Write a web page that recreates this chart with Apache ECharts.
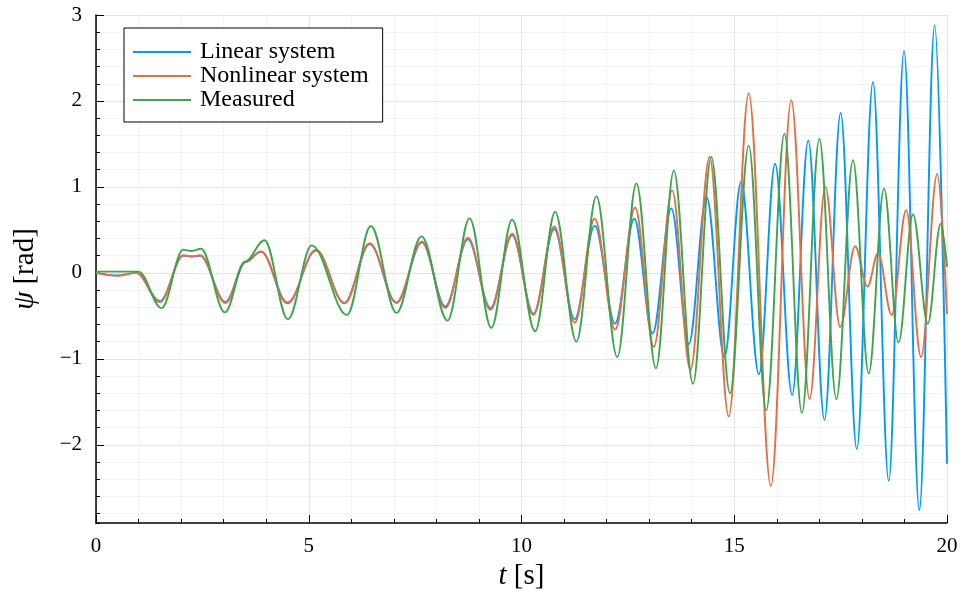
<!DOCTYPE html>
<html>
<head>
<meta charset="utf-8">
<script src="https://cdn.jsdelivr.net/npm/echarts@6/dist/echarts.min.js"></script>
<style>
  html, body { margin: 0; padding: 0; background: #fff; }
  #chart { width: 963px; height: 599px; }
</style>
</head>
<body>
<div id="chart"></div>
<script>
// Yaw angle response: time instants of the turning points and the angle there
const linearT = [0, 0.5, 0.95, 1.5, 2.05, 2.25, 2.45, 3.04, 3.52, 3.88, 4.5, 5.17, 5.84, 6.43, 7.06, 7.66,
  8.21, 8.74, 9.27, 9.78, 10.28, 10.77, 11.25, 11.72, 12.2, 12.65, 13.08, 13.52, 13.93, 14.35, 14.77,
  15.16, 15.58, 15.96, 16.36, 16.74, 17.12, 17.5, 17.88, 18.26, 18.63, 18.99, 19.35, 19.71, 20];
const linearPsi = [0, -0.03, 0, -0.33, 0.2, 0.19, 0.2, -0.34, 0.13, 0.245, -0.345, 0.26, -0.35, 0.335, -0.345, 0.355,
  -0.39, 0.39, -0.41, 0.44, -0.475, 0.51, -0.54, 0.55, -0.59, 0.63, -0.705, 0.75, -0.83, 0.88, -0.98,
  1.06, -1.18, 1.27, -1.42, 1.54, -1.71, 1.86, -2.05, 2.22, -2.42, 2.58, -2.76, 2.88, -2.22];

const nonlinearT = [0, 0.5, 0.95, 1.5, 2.05, 2.25, 2.45, 3.04, 3.52, 3.88, 4.5, 5.17, 5.84, 6.43, 7.06, 7.66,
  8.21, 8.74, 9.27, 9.78, 10.28, 10.77, 11.25, 11.72, 12.2, 12.67, 13.11, 13.54, 13.97, 14.42, 14.87,
  15.34, 15.86, 16.34, 16.77, 17.14, 17.49, 17.84, 18.13, 18.38, 18.7, 19.04, 19.39, 19.77, 20];
const nonlinearPsi = [0, -0.035, 0, -0.34, 0.205, 0.19, 0.205, -0.35, 0.13, 0.25, -0.355, 0.27, -0.355, 0.345, -0.35, 0.365,
  -0.41, 0.41, -0.43, 0.455, -0.49, 0.54, -0.58, 0.63, -0.66, 0.76, -0.86, 0.96, -1.13, 1.35, -1.67,
  2.09, -2.48, 2.01, -1.47, 1.0, -0.63, 0.31, -0.16, 0.23, -0.49, 0.73, -0.98, 1.15, -0.48];

const measuredT = [0, 1.0, 1.54, 2.05, 2.25, 2.47, 3.03, 3.5, 3.96, 4.51, 5.07, 5.9, 6.46, 7.06, 7.65,
  8.26, 8.78, 9.29, 9.78, 10.32, 10.79, 11.29, 11.76, 12.25, 12.7, 13.16, 13.58, 14.03, 14.46, 14.9,
  15.34, 15.75, 16.18, 16.59, 17.0, 17.4, 17.79, 18.16, 18.52, 18.86, 19.2, 19.55, 19.85, 20];
const measuredPsi = [0.015, 0.015, -0.41, 0.27, 0.255, 0.28, -0.46, 0.13, 0.38, -0.54, 0.32, -0.49, 0.545, -0.465, 0.425,
  -0.556, 0.634, -0.64, 0.62, -0.68, 0.71, -0.8, 0.89, -0.98, 1.04, -1.11, 1.19, -1.29, 1.35, -1.4,
  1.48, -1.6, 1.62, -1.63, 1.56, -1.47, 1.31, -1.17, 0.98, -0.81, 0.68, -0.59, 0.57, 0.07];

const seriesNames = ['Linear system', 'Nonlinear system', 'Measured'];
const seriesColors = ['#009AFA', '#E36F47', '#3EA44E'];

const X_MIN = 0, X_MAX = 20;
const Y_MIN = -2.91, Y_MAX = 3;

const FONT = '"Liberation Serif", "DejaVu Serif", serif';

function pairs(ts, vs) {
  return ts.map((t, i) => [t, vs[i]]);
}

function tickText(v) {
  const r = Math.round(v);
  if (Math.abs(v - r) > 1e-6) return '';
  return r < 0 ? '\u2212' + Math.abs(r) : String(r);
}

const chart = echarts.init(document.getElementById('chart'), null, { renderer: 'canvas' });

const lineSeries = [
  pairs(linearT, linearPsi),
  pairs(nonlinearT, nonlinearPsi),
  pairs(measuredT, measuredPsi)
].map((data, i) => ({
  name: seriesNames[i],
  type: 'line',
  yAxisIndex: 1,
  data: data,
  symbol: 'none',
  showSymbol: false,
  smooth: 0.36,
  smoothMonotone: 'x',
  lineStyle: { width: 1.9, color: seriesColors[i] },
  itemStyle: { color: seriesColors[i] },
  emphasis: { disabled: true }
}));

chart.setOption({
  animation: false,
  backgroundColor: '#ffffff',
  grid: { left: 96, right: 16, top: 15, bottom: 76, containLabel: false },
  legend: {
    data: seriesNames.map((n) => ({ name: n, icon: 'rect' })),
    left: 124,
    top: 28,
    orient: 'vertical',
    padding: [12, 14, 10, 9],
    itemGap: 0,
    itemWidth: 58,
    itemHeight: 2,
    borderColor: '#000',
    borderWidth: 1,
    borderRadius: 0,
    backgroundColor: '#ffffff',
    selectedMode: false,
    textStyle: { fontFamily: FONT, fontSize: 24, lineHeight: 23.5, height: 23.5, color: '#000', padding: [0, 0, 0, 4] }
  },
  xAxis: {
    type: 'value',
    min: X_MIN,
    max: X_MAX,
    interval: 5,
    name: '{i|t} [s]',
    nameLocation: 'middle',
    nameGap: 36,
    nameTextStyle: {
      fontFamily: FONT, fontSize: 29, color: '#000',
      rich: { i: { fontFamily: FONT, fontSize: 29, fontStyle: 'italic', color: '#000' } }
    },
    axisLine: { onZero: false, lineStyle: { color: '#000', width: 1.5 } },
    axisTick: { inside: true, length: 8, lineStyle: { color: '#000', width: 1 } },
    minorTick: { show: true, splitNumber: 5, length: 4, lineStyle: { color: '#000', width: 1 } },
    axisLabel: { margin: 13, color: '#000', fontFamily: FONT, fontSize: 21 },
    splitLine: { show: true, lineStyle: { color: '#e4e4e4', width: 1 } },
    minorSplitLine: { show: true, lineStyle: { color: '#f3f3f3', width: 1 } }
  },
  yAxis: [
    {
      // minor ticks and minor grid every 0.2 rad
      type: 'value',
      min: Y_MIN,
      max: Y_MAX,
      minInterval: 0.2,
      maxInterval: 0.2,
      position: 'left',
      axisLine: { show: false, onZero: false },
      axisTick: { show: true, inside: true, length: 4, lineStyle: { color: '#000', width: 1 } },
      axisLabel: { show: false },
      splitLine: { show: true, showMinLine: false, showMaxLine: false, lineStyle: { color: '#f3f3f3', width: 1 } }
    },
    {
      // major ticks, labels and grid every 1 rad
      type: 'value',
      min: Y_MIN,
      max: Y_MAX,
      minInterval: 1,
      maxInterval: 1,
      position: 'left',
      name: '{i|\u03c8} [rad]',
      nameLocation: 'middle',
      nameRotate: 90,
      nameGap: 56,
      nameTextStyle: {
        fontFamily: FONT, fontSize: 29, color: '#000',
        rich: { i: { fontFamily: FONT, fontSize: 29, fontStyle: 'italic', color: '#000' } }
      },
      axisLine: { show: true, onZero: false, lineStyle: { color: '#000', width: 1.5 } },
      axisTick: { show: true, inside: true, length: 8, lineStyle: { color: '#000', width: 1 } },
      axisLabel: {
        margin: 14, color: '#000', fontFamily: FONT, fontSize: 21,
        showMinLabel: false, formatter: tickText
      },
      splitLine: { show: true, showMinLine: false, showMaxLine: true, lineStyle: { color: '#e4e4e4', width: 1 } }
    }
  ],
  series: lineSeries
});
</script>
</body>
</html>
